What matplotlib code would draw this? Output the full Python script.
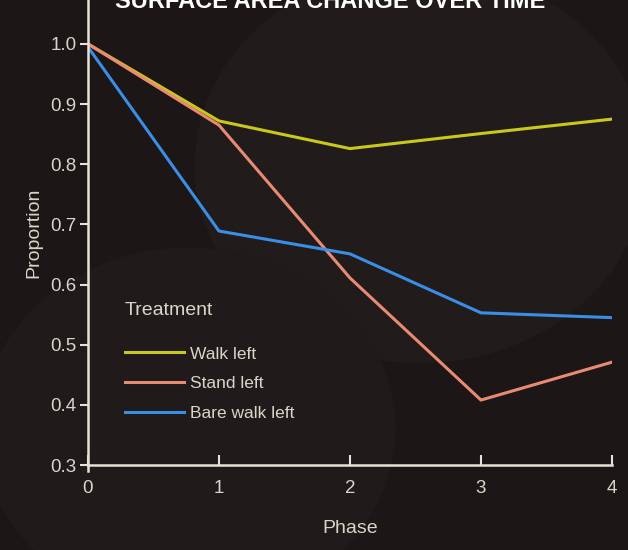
import matplotlib
matplotlib.use('Agg')
import matplotlib.pyplot as plt
from matplotlib.patches import Circle

# Data
phases = [0, 1, 2, 3, 4]
walk_left = [1.0, 0.872, 0.826, 0.851, 0.875]
stand_left = [1.0, 0.865, 0.611, 0.408, 0.471]
bare_walk_left = [0.995, 0.689, 0.651, 0.553, 0.545]
y_ticks = [0.3, 0.4, 0.5, 0.6, 0.7, 0.8, 0.9, 1.0]
y_tick_labels = ['0.3', '0.4', '0.5', '0.6', '0.7', '0.8', '0.9', '1.0']

BG = '#1c1616'
AXIS_COLOR = '#e6e2d6'
TEXT_COLOR = '#d9d5c9'
COLORS = {'Walk left': '#c9c81c', 'Stand left': '#e98a72', 'Bare walk left': '#3a8ee6'}

plt.rcParams['font.family'] = ['Liberation Sans Narrow', 'Liberation Sans', 'DejaVu Sans']

fig = plt.figure(figsize=(6.28, 5.5), dpi=100, facecolor=BG)

# faint background circles
fig.patches.append(Circle((0.67, 0.70), 0.36, transform=fig.transFigure,
                          facecolor='#211b1b', edgecolor='none', zorder=-2))
fig.patches.append(Circle((0.30, 0.22), 0.33, transform=fig.transFigure,
                          facecolor='#201a1a', edgecolor='none', zorder=-1))

ax = fig.add_axes([0.140, 0.1545, 0.8345, 0.8455])
ax.set_facecolor('none')

ax.plot(phases, walk_left, color=COLORS['Walk left'], lw=2.2, label='Walk left')
ax.plot(phases, stand_left, color=COLORS['Stand left'], lw=2.2, label='Stand left')
ax.plot(phases, bare_walk_left, color=COLORS['Bare walk left'], lw=2.2, label='Bare walk left')

ax.set_xlim(0, 4)
ax.set_ylim(0.3, 1.073)
ax.set_xticks(phases)
ax.set_yticks(y_ticks)
ax.set_yticklabels(y_tick_labels)

for side in ['top', 'right']:
    ax.spines[side].set_visible(False)
for side in ['left', 'bottom']:
    ax.spines[side].set_color(AXIS_COLOR)
    ax.spines[side].set_linewidth(1.8)

ax.tick_params(axis='y', direction='out', length=6, width=1.5, color=AXIS_COLOR,
               labelcolor=TEXT_COLOR, labelsize=13.5, pad=2)
ax.tick_params(axis='x', direction='in', length=7, width=1.5, color=AXIS_COLOR,
               labelcolor=TEXT_COLOR, labelsize=13.5, pad=11)
# y axis pokes out below the x axis
ax.plot([0, 0], [0, -0.012], transform=ax.get_xaxis_transform(), color=AXIS_COLOR,
        lw=1.8, clip_on=False)

ax.set_xlabel('Phase', color=TEXT_COLOR, fontsize=14, labelpad=16)
ax.set_ylabel('Proportion', color=TEXT_COLOR, fontsize=14, labelpad=6)

leg = ax.legend(title='Treatment', loc='upper left', bbox_to_anchor=(0.04, 0.385),
                frameon=False, fontsize=12.5, title_fontsize=14, handlelength=3.4,
                handletextpad=0.4, labelspacing=0.85, alignment='left')
leg.get_title().set_color(TEXT_COLOR)
leg._legend_box.sep = 20
for t in leg.get_texts():
    t.set_color(TEXT_COLOR)

fig.text(0.525, 0.997, 'SURFACE AREA CHANGE OVER TIME', color='white', fontsize=17,
         fontweight='bold', ha='center', va='center', family=['Liberation Sans', 'DejaVu Sans'])

fig.savefig('out.png', dpi=100, facecolor=BG)
